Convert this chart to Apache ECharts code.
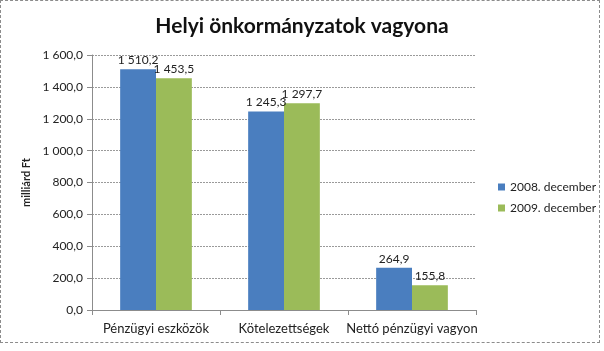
<!DOCTYPE html>
<html>
<head>
<meta charset="utf-8">
<script src="https://cdn.jsdelivr.net/npm/echarts@6/dist/echarts.min.js"></script>
<style>
  html, body { margin: 0; padding: 0; background: #fff; }
  #frame { position: absolute; left: 0; top: 0; width: 598px; height: 341px; border: 1px dashed #8c8c8c; }
  #chart { position: absolute; left: 0; top: 0; width: 604px; height: 351px; }
</style>
</head>
<body>
<div id="frame"></div>
<div id="chart"></div>
<script>
  // adatok
  const categories = ['Pénzügyi eszközök', 'Kötelezettségek', 'Nettó pénzügyi vagyon']
  const seriesNames = ['2008. december', '2009. december']
  const values2008 = [1510.2, 1245.3, 264.9]
  const values2009 = [1453.5, 1297.7, 155.8]
  const colors = ['#4a7ebf', '#9bbb59']

  // magyar számformátum: 1 510,2
  function huFmt (v) {
    let s = Number(v).toFixed(1).split('.')
    let int = s[0].replace(/\B(?=(\d{3})+(?!\d))/g, ' ')
    return int + ',' + s[1]
  }

  const font = 'Lato, "Open Sans", sans-serif'
  const chart = echarts.init(document.getElementById('chart'))

  const option = {
    animation: false,
    title: {
      text: 'Helyi önkormányzatok vagyona',
      left: 'center',
      top: 11,
      textStyle: { fontFamily: font, fontSize: 21, fontWeight: 'bold', color: '#111' }
    },
    legend: {
      orient: 'vertical',
      left: 493,
      top: 176,
      itemWidth: 7,
      itemHeight: 7,
      itemGap: 9,
      icon: 'rect',
      textStyle: { fontFamily: font, fontSize: 12, color: '#222' },
      data: seriesNames
    },
    grid: { left: 92, right: 128, top: 55, bottom: 41 },
    xAxis: {
      type: 'category',
      data: categories,
      axisLine: { lineStyle: { color: '#8c8c8c' } },
      axisTick: { show: true, length: 5, lineStyle: { color: '#8c8c8c' } },
      axisLabel: { interval: 0, fontFamily: font, fontSize: 13, color: '#222', margin: 12 }
    },
    yAxis: {
      type: 'value',
      min: 0,
      max: 1600,
      interval: 200,
      name: 'milliárd Ft',
      nameLocation: 'middle',
      nameGap: 55,
      nameTextStyle: { fontFamily: font, fontSize: 11, fontWeight: 'bold', color: '#222' },
      axisLine: { show: true, lineStyle: { color: '#8c8c8c' } },
      axisTick: { show: true, length: 5, lineStyle: { color: '#8c8c8c' } },
      axisLabel: { fontFamily: font, fontSize: 12, color: '#222', margin: 9, formatter: huFmt },
      splitLine: { lineStyle: { color: '#9a9a9a', type: [2, 1] } }
    },
    series: [
      {
        name: seriesNames[0],
        type: 'bar',
        data: values2008,
        barGap: '0%',
        barCategoryGap: '44%',
        itemStyle: { color: colors[0] },
        label: { show: true, position: 'top', distance: 3, fontFamily: font, fontSize: 12, color: '#222', formatter: p => huFmt(p.value) }
      },
      {
        name: seriesNames[1],
        type: 'bar',
        data: values2009,
        itemStyle: { color: colors[1] },
        label: { show: true, position: 'top', distance: 3, fontFamily: font, fontSize: 12, color: '#222', formatter: p => huFmt(p.value) }
      }
    ]
  }
  chart.setOption(option)
</script>
</body>
</html>
